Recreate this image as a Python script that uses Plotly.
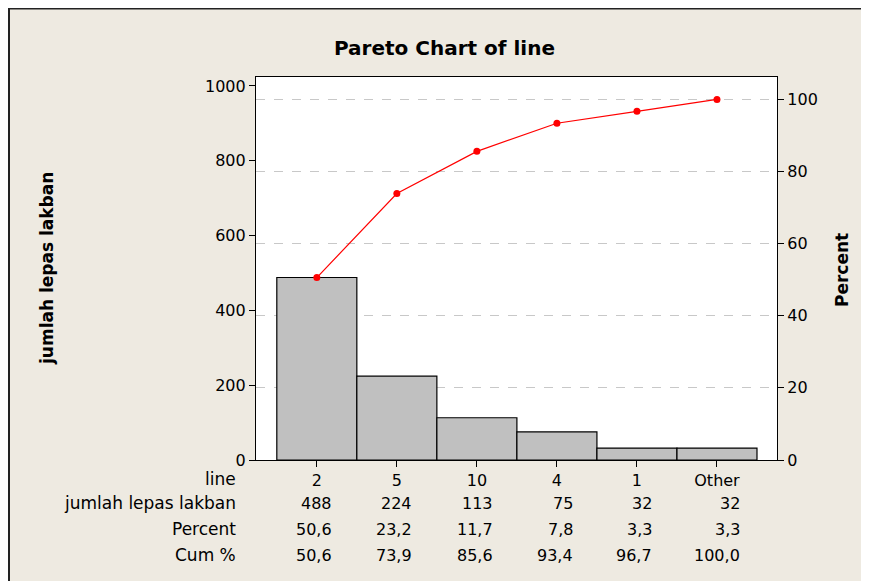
import plotly.graph_objects as go

categories = ["2", "5", "10", "4", "1", "Other"]
counts = [488, 224, 113, 75, 32, 32]
percent = [50.6, 23.2, 11.7, 7.8, 3.3, 3.3]
cum_percent = [50.6, 73.9, 85.6, 93.4, 96.7, 100.0]
row_labels = ["line", "jumlah lepas lakban", "Percent", "Cum %"]
left_ticks = [0, 200, 400, 600, 800, 1000]
right_ticks = [0, 20, 40, 60, 80, 100]
total = sum(counts)

OFF = 8  # page body margin
W, H = 869 - OFF, 581 - OFF
# plot area in reference (page) pixels
RL, RR, RT, RB = 256, 777, 77, 460
FONT = "DejaVu Sans"
BG = "#EEEAE1"


def px(x):
    return (x - RL) / (RR - RL)


def py(y):
    return (RB - y) / (RB - RT)


def fmt(v):
    return f"{v:.1f}".replace(".", ",")


ymax = 1024
fig = go.Figure()
fig.add_trace(go.Bar(
    x=categories, y=counts, width=1.0,
    marker=dict(color="#C0C0C0", line=dict(color="black", width=1.2)),
    showlegend=False, hoverinfo="skip"))
fig.add_trace(go.Scatter(
    x=categories, y=cum_percent, yaxis="y2", mode="lines+markers",
    line=dict(color="#FF0000", width=1.2),
    marker=dict(color="#FF0000", size=7),
    showlegend=False, hoverinfo="skip"))

numfont = dict(family=FONT, size=16, color="black")
wordfont = dict(family=FONT, size=17, color="black")
fig.update_layout(
    width=W, height=H,
    margin=dict(l=RL - OFF, r=869 - RR, t=RT - OFF, b=581 - RB, pad=0),
    paper_bgcolor=BG, plot_bgcolor="white",
    xaxis=dict(type="category", range=[-0.76, 5.75], showline=True, linecolor="black",
               linewidth=1.2, mirror=True, ticks="outside", ticklen=6, tickcolor="black",
               tickfont=numfont, showgrid=False, zeroline=False),
    yaxis=dict(range=[0, ymax], tickvals=left_ticks, showline=True, linecolor="black",
               linewidth=1.2, mirror=True, ticks="outside", ticklen=6, tickcolor="black",
               tickfont=numfont, showgrid=False, zeroline=False),
    yaxis2=dict(range=[0, ymax / total * 100], tickvals=right_ticks, overlaying="y",
                side="right", showline=True, linecolor="black", linewidth=1.2,
                ticks="outside", ticklen=6, tickcolor="black", tickfont=numfont,
                showgrid=True, gridcolor="#C8C8C8", griddash="dash", gridwidth=1,
                zeroline=False),
)

ann = []
ann.append(dict(text="<b>Pareto Chart of line</b>", x=px(444), y=py(48), xref="paper",
                yref="paper", showarrow=False, font=dict(family=FONT, size=20, color="black"),
                xanchor="center", yanchor="middle"))
ann.append(dict(text="<b>jumlah lepas lakban</b>", x=px(47), y=py(269), xref="paper",
                yref="paper", showarrow=False, textangle=-90,
                font=dict(family=FONT, size=17, color="black"),
                xanchor="center", yanchor="middle"))
ann.append(dict(text="<b>Percent</b>", x=px(842), y=py(270), xref="paper",
                yref="paper", showarrow=False, textangle=-90,
                font=dict(family=FONT, size=17, color="black"),
                xanchor="center", yanchor="middle"))

row_y = [479, 503, 529, 555]
for lab, yy in zip(row_labels, row_y):
    ann.append(dict(text=lab, x=px(238), y=py(yy), xref="paper", yref="paper",
                    showarrow=False, font=wordfont, xanchor="right", yanchor="middle"))
rows = [[str(c) for c in counts], [fmt(p) for p in percent], [fmt(c) for c in cum_percent]]
right_shift = [17, 17, 18, 18, 17, 25]
for r, yy in zip(rows, row_y[1:]):
    for i, t in enumerate(r):
        ann.append(dict(text=t, x=i, xref="x", y=py(yy), yref="paper", xshift=right_shift[i],
                        showarrow=False, font=numfont, xanchor="right", yanchor="middle"))
fig.update_layout(annotations=ann)

shapes = [
    dict(type="line", xref="paper", yref="paper", x0=px(8), x1=px(869), y0=py(8.5), y1=py(8.5),
         line=dict(color="#222222", width=2)),
    dict(type="line", xref="paper", yref="paper", x0=px(9), x1=px(9), y0=py(8), y1=py(590),
         line=dict(color="#222222", width=2)),
    dict(type="line", xref="paper", yref="paper", x0=px(868.5), x1=px(868.5), y0=py(9), y1=py(590),
         line=dict(color="#B0B0B0", width=1)),
]
fig.update_layout(shapes=shapes)

fig.write_html("out.html")
